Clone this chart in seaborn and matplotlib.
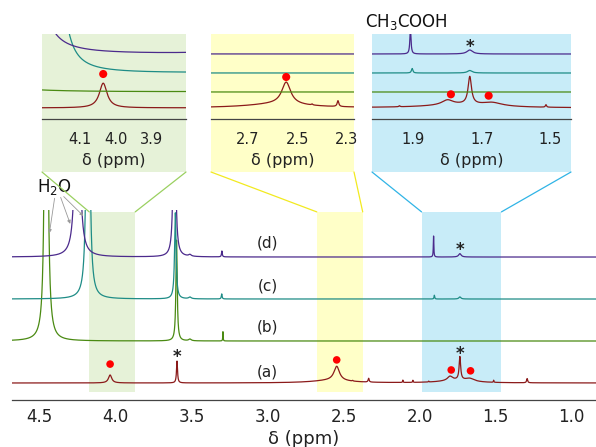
import numpy as np
import pandas as pd
import matplotlib
matplotlib.use("Agg")
import matplotlib.pyplot as plt
import seaborn as sns
from matplotlib.patches import Rectangle, ConnectionPatch
from matplotlib.ticker import MultipleLocator

# ---------------- data ----------------
trace_labels = ["(a)", "(b)", "(c)", "(d)"]
trace_offsets = [0, 1, 2, 3]

# peak tables: position (ppm), height (offset units), half width (ppm)
peaks_a_ppm = [4.035, 3.595, 2.58, 2.545, 2.44, 2.335, 2.11, 2.044, 1.94, 1.76, 1.80, 1.735, 1.67, 1.513, 1.293]
peaks_a_height = [0.19, 0.52, 0.06, 0.34, 0.015, 0.09, 0.055, 0.05, 0.02, 0.06, 0.10, 0.55, 0.07, 0.05, 0.10]
peaks_a_hwhm = [0.013, 0.004, 0.15, 0.022, 0.003, 0.004, 0.002, 0.002, 0.002, 0.12, 0.02, 0.006, 0.035, 0.002, 0.004]

peaks_b_ppm = [4.455, 3.598, 3.51, 3.293]
peaks_b_height = [27.0, 2.4, 0.04, 0.22]
peaks_b_hwhm = [0.006, 0.005, 0.01, 0.0015]

peaks_c_ppm = [4.18, 3.606, 3.51, 3.301, 1.903, 1.735]
peaks_c_height = [22.0, 2.05, 0.04, 0.12, 0.09, 0.05]
peaks_c_hwhm = [0.006, 0.006, 0.01, 0.003, 0.0025, 0.008]

peaks_d_ppm = [4.25, 3.612, 3.51, 3.30, 1.908, 1.735]
peaks_d_height = [10.9, 7.2, 0.04, 0.14, 0.5, 0.08]
peaks_d_hwhm = [0.01, 0.006, 0.01, 0.003, 0.002, 0.01]

# marked signals in the main plot
dot_ppm = [4.035, 2.545, 1.792, 1.665]
dot_y = [0.45, 0.55, 0.31, 0.29]
star_ppm = [3.595, 1.735, 1.735]
star_y = [0.74, 0.79, 3.29]
label_ppm = [3.0, 3.0, 3.0, 3.0]
label_y = [0.26, 1.33, 2.31, 3.33]

# zoom windows (ppm)
span_ranges = [(4.172, 3.87), (2.676, 2.374), (1.987, 1.462)]
inset_ranges = [(4.205, 3.805), (2.85, 2.27), (2.02, 1.44)]
inset_ticks = [[4.1, 4.0, 3.9], [2.7, 2.5, 2.3], [1.9, 1.7, 1.5]]
inset_offsets = [11, 27, 46, 65]
inset_gains = [130, 65, 50]
inset_dot_ppm = [[4.035], [2.545], [1.79, 1.68]]
inset_dot_y = [[45], [42], [24.7, 23.3]]

main_ticks = [4.5, 4.0, 3.5, 3.0, 2.5, 2.0, 1.5, 1.0]

# ---------------- build spectra ----------------
peak_tables = [
    (peaks_a_ppm, peaks_a_height, peaks_a_hwhm),
    (peaks_b_ppm, peaks_b_height, peaks_b_hwhm),
    (peaks_c_ppm, peaks_c_height, peaks_c_hwhm),
    (peaks_d_ppm, peaks_d_height, peaks_d_hwhm),
]
ppm = np.linspace(4.68, 0.84, 7681)


def spectrum(table, x):
    pos, hgt, wid = table
    y = np.zeros_like(x)
    for p, h, w in zip(pos, hgt, wid):
        y += h / (1.0 + ((x - p) / w) ** 2)
    return y


signals = [spectrum(t, ppm) for t in peak_tables]
frames = []
for lab, off, sig in zip(trace_labels, trace_offsets, signals):
    frames.append(pd.DataFrame({"ppm": ppm, "sig": sig, "off": off, "trace": lab}))
df = pd.concat(frames, ignore_index=True)
df["y"] = df["off"] + df["sig"]

colors = {"(a)": "#8b1a1a", "(b)": "#4a8a12", "(c)": "#1e8c86", "(d)": "#4b2a8c"}
span_colors = ["#e6f2d8", "#ffffc8", "#c8ecf8"]
conn_colors = ["#9ad060", "#f2ea20", "#30b4e6"]

# ---------------- figure ----------------
sns.set_style("white")
plt.rcParams["font.family"] = ["DejaVu Sans"]
W, H = 596, 447
fig = plt.figure(figsize=(W / 100, H / 100), dpi=100)


def fx(px):
    return px / W


def fy(py):
    return 1 - py / H


ax = fig.add_axes([fx(12), fy(400), fx(596) - fx(12), fy(210) - fy(400)])
ax.set_facecolor("none")
sns.lineplot(data=df, x="ppm", y="y", hue="trace", palette=colors, lw=0.9,
             legend=False, sort=False, estimator=None, ax=ax)
ax.set_xlim(4.68, 0.84)
ax.set_ylim(-0.405, 4.12)
for (x0, x1), c in zip(span_ranges, span_colors):
    ax.axvspan(x0, x1, ymin=0.042, ymax=0.99, color=c, lw=0, zorder=0)

sns.scatterplot(x=dot_ppm, y=dot_y, color="#ff0000", s=30, edgecolor="none",
                legend=False, ax=ax, zorder=5)
for xp, yp in zip(star_ppm, star_y):
    ax.text(xp, yp - 0.23, "*", ha="center", va="baseline", fontsize=12,
            fontweight="bold", color="#222")
for lab, xp, yp in zip(trace_labels, label_ppm, label_y):
    ax.text(xp, yp, lab, ha="center", va="center", fontsize=11, color="#222")

ax.set_xticks(main_ticks)
ax.xaxis.set_minor_locator(MultipleLocator(0.25))
ax.set_yticks([])
for s in ["left", "top", "right"]:
    ax.spines[s].set_visible(False)
ax.spines["bottom"].set_color("#444")
ax.spines["bottom"].set_linewidth(0.9)
ax.tick_params(axis="x", which="major", length=3, width=0.8, color="#444",
               labelsize=12, labelcolor="#222", pad=3)
ax.tick_params(axis="x", which="minor", length=2, width=0.8, color="#444")
ax.set_xlabel("δ (ppm)", fontsize=13, color="#222", labelpad=3)
ax.set_ylabel("")

# H2O label with arrows
ax.text(4.40, 4.67, "H$_2$O", ha="center", va="center", fontsize=12, color="#111",
        clip_on=False)
h2o_from = [(4.40, 4.40), (4.36, 4.42), (4.34, 4.44)]
h2o_to = [(4.434, 3.57), (4.297, 3.79), (4.211, 3.98)]
for (xa, ya), (xb, yb) in zip(h2o_from, h2o_to):
    ax.annotate("", xy=(xb, yb), xytext=(xa, ya), annotation_clip=False,
                arrowprops=dict(arrowstyle="-|>", color="#999999", lw=0.6,
                                mutation_scale=5, shrinkA=0, shrinkB=0))

# ---------------- insets ----------------
inset_px = [(42, 186), (211, 354), (372, 571)]
for k in range(3):
    xl, xr = inset_px[k]
    fig.add_artist(Rectangle((fx(xl), fy(172)), fx(xr) - fx(xl), fy(34) - fy(172),
                             transform=fig.transFigure, facecolor=span_colors[k],
                             edgecolor="none", zorder=-1))
    iax = fig.add_axes([fx(xl), fy(119), fx(xr) - fx(xl), fy(34) - fy(119)])
    iax.set_facecolor("none")
    lo, hi = inset_ranges[k]
    sub = df[(df["ppm"] <= lo + 0.01) & (df["ppm"] >= hi - 0.01)].copy()
    sub["yi"] = sub["trace"].map(dict(zip(trace_labels, inset_offsets))) + inset_gains[k] * sub["sig"]
    sns.lineplot(data=sub, x="ppm", y="yi", hue="trace", palette=colors, lw=0.9,
                 legend=False, sort=False, estimator=None, ax=iax)
    sns.scatterplot(x=inset_dot_ppm[k], y=inset_dot_y[k], color="#ff0000", s=34,
                    edgecolor="none", legend=False, ax=iax, zorder=5)
    iax.set_xlim(lo, hi)
    iax.set_ylim(0, 85)
    iax.set_xticks(inset_ticks[k])
    iax.xaxis.set_minor_locator(MultipleLocator(0.05))
    iax.set_yticks([])
    for s in ["left", "top", "right"]:
        iax.spines[s].set_visible(False)
    iax.spines["bottom"].set_color("#444")
    iax.spines["bottom"].set_linewidth(0.9)
    iax.tick_params(axis="x", which="major", length=3, width=0.8, color="#444",
                    labelsize=10.5, labelcolor="#222", pad=6)
    iax.tick_params(axis="x", which="minor", length=2, width=0.8, color="#444")
    iax.set_xlabel("δ (ppm)", fontsize=11.5, color="#222", labelpad=5)
    iax.set_ylabel("")
    # connectors
    x0, x1 = span_ranges[k]
    for xs, xpx in [(x0, xl), (x1, xr)]:
        con = ConnectionPatch(xyA=(xs, 0.99), coordsA=ax.get_xaxis_transform(),
                              xyB=(fx(xpx), fy(172)), coordsB=fig.transFigure,
                              color=conn_colors[k], lw=0.9)
        fig.add_artist(con)
    if k == 2:
        iax.text(1.735, 67, "*", ha="center", va="baseline", fontsize=12,
                 fontweight="bold", color="#222")
        iax.text(1.919, 97, "CH$_3$COOH", ha="center", va="center", fontsize=12,
                 color="#111", clip_on=False)

fig.savefig("out.png", dpi=100)
